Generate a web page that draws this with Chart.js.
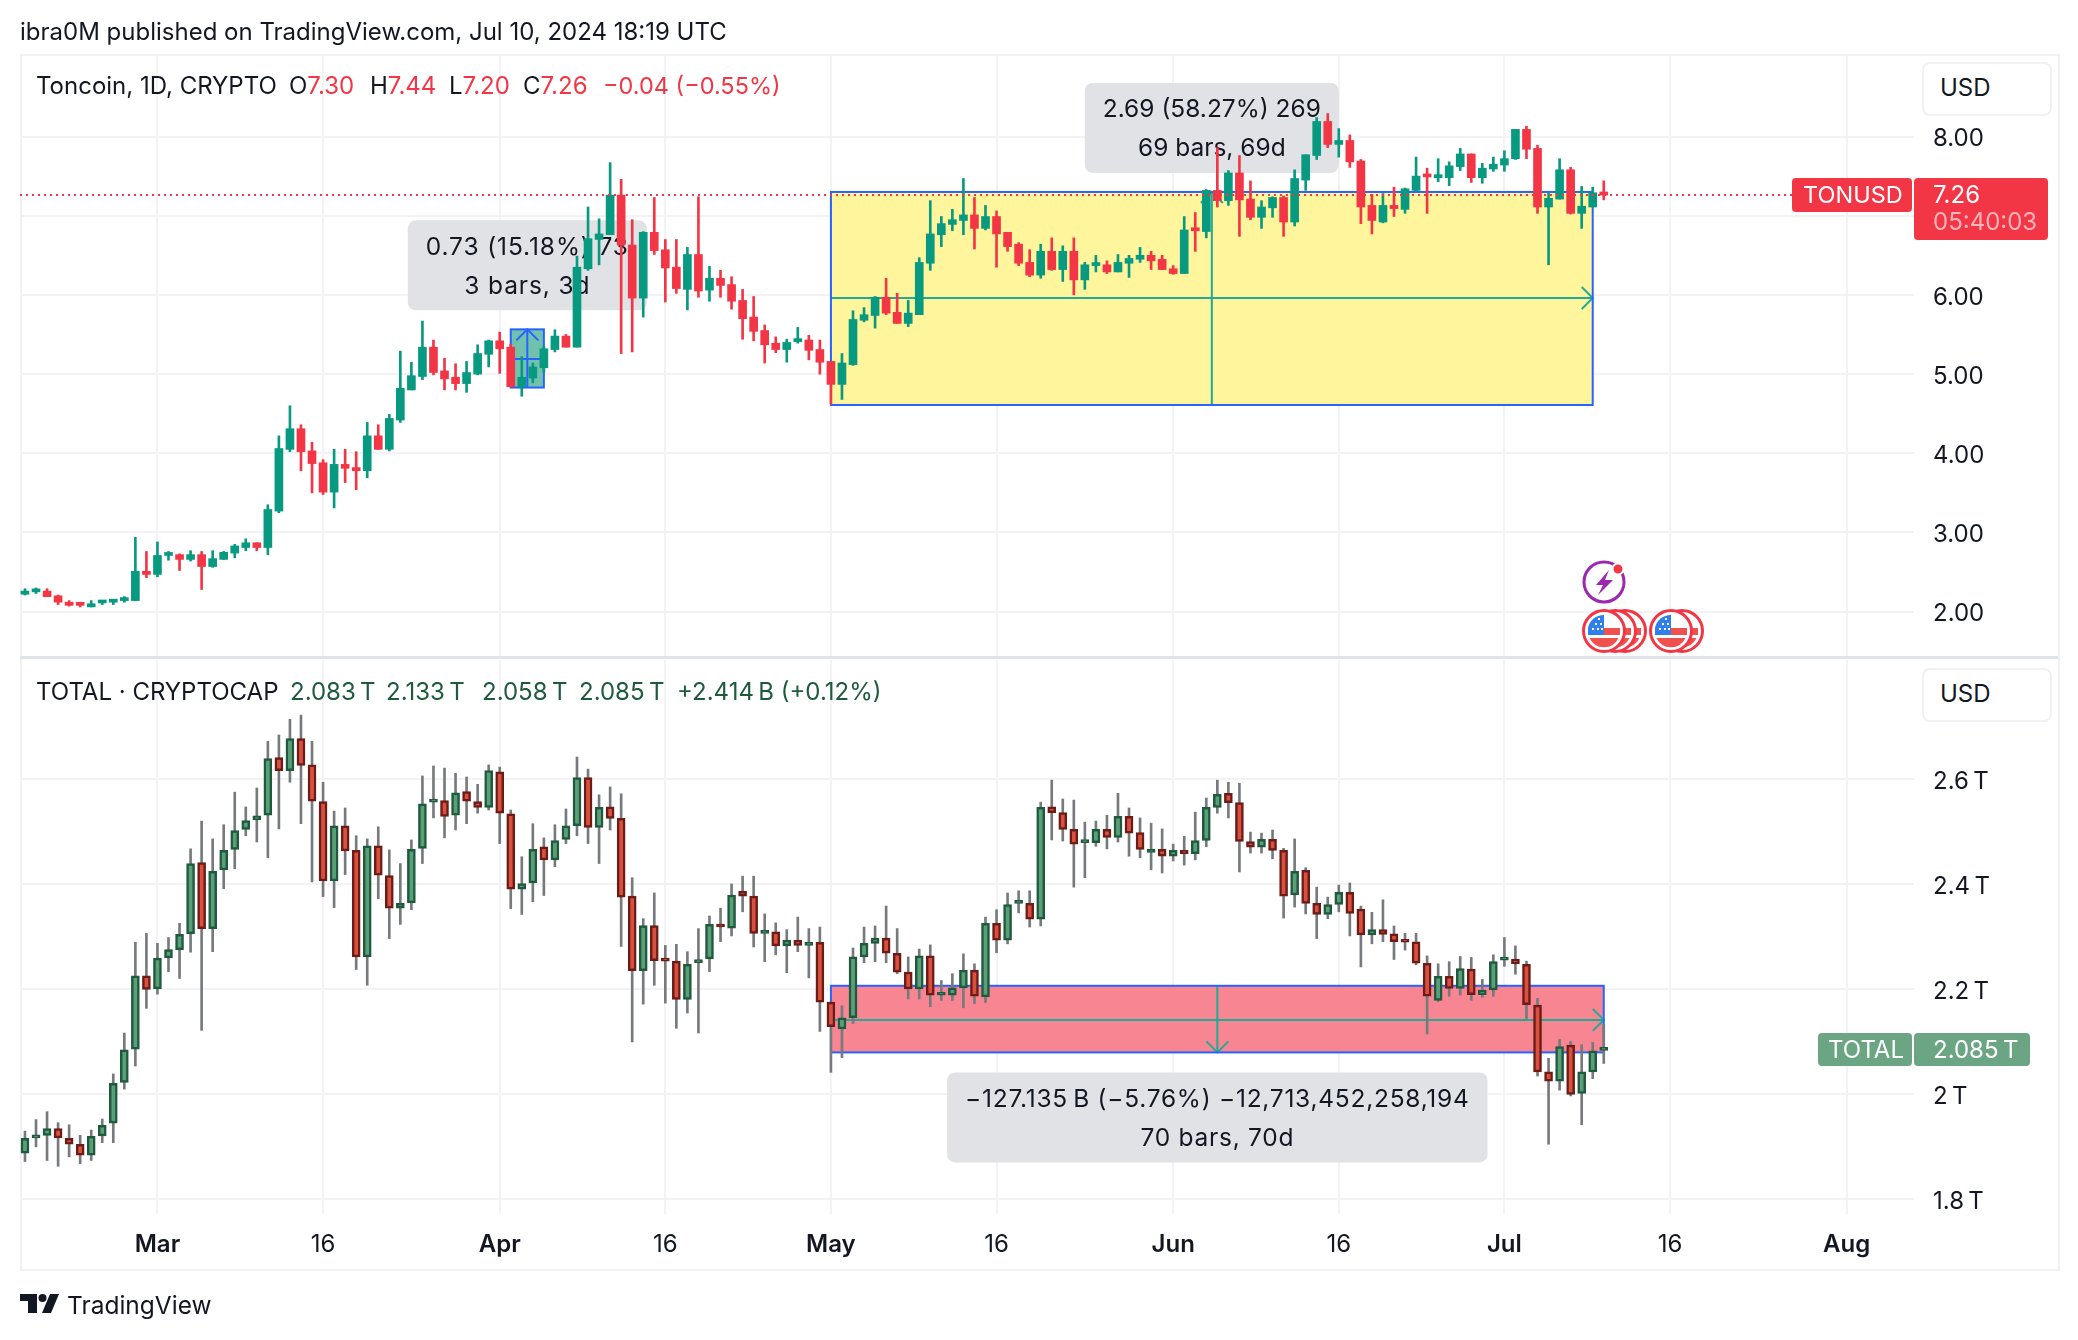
<!DOCTYPE html>
<html>
<head>
<meta charset="utf-8">
<title>Toncoin vs TOTAL</title>
<script src="https://cdn.jsdelivr.net/npm/chart.js@4"></script>
<style>
    html, body { margin: 0; padding: 0; background: #fff; }
    body { position: relative; width: 2078px; height: 1340px; overflow: hidden; font-family: Inter, "Noto Sans", sans-serif; color: #131722; }
    canvas { position: absolute; left: 0; }
    #chartTon { top: 0; }
    #chartTotal { top: 659px; }
    .t { position: absolute; white-space: nowrap; font-size: 24px; line-height: 30px; }
    .tag { position: absolute; border-radius: 4px; }
    .frame { position: absolute; left: 20px; top: 54px; width: 2036px; height: 1213px; border: 2px solid #f0f0f5; }
    .sep { position: absolute; left: 20px; top: 656px; width: 2038px; height: 3px; background: #e0e3eb; }
    .usd { position: absolute; left: 1922px; width: 126px; height: 50px; border: 2px solid #f0f0f5; border-radius: 8px; background: #fff; }
    .red { color: #f23645; }
    .grn { color: #1e5a3c; }
    svg { position: absolute; }
</style>
</head>
<body>
<div class="frame"></div>
<canvas id="chartTon" width="2078" height="659"></canvas>
<canvas id="chartTotal" width="2078" height="681"></canvas>
<div class="sep"></div>

<div class="t" style="left:20px;top:17px">ibra0M published on TradingView.com, Jul 10, 2024 18:19 UTC</div>

<div class="t" style="left:36px;top:71px">Toncoin, 1D, CRYPTO</div>
<div class="t" style="left:289px;top:71px">O<span class="red">7.30</span></div>
<div class="t" style="left:370px;top:71px">H<span class="red">7.44</span></div>
<div class="t" style="left:449px;top:71px">L<span class="red">7.20</span></div>
<div class="t" style="left:523px;top:71px">C<span class="red">7.26</span></div>
<div class="t red" style="left:603px;top:71px;font-size:23.5px">−0.04 (−0.55%)</div>

<div class="t" style="left:36px;top:677px">TOTAL · CRYPTOCAP</div>
<div class="t grn" style="left:290px;top:677px">2.083&#8201;T</div>
<div class="t grn" style="left:386px;top:677px">2.133&#8201;T</div>
<div class="t grn" style="left:482px;top:677px">2.058&#8201;T</div>
<div class="t grn" style="left:579px;top:677px">2.085&#8201;T</div>
<div class="t grn" style="left:677px;top:677px">+2.414&#8201;B (+0.12%)</div>

<div class="usd" style="top:62px"></div>
<div class="t" style="left:1940px;top:73px">USD</div>
<div class="usd" style="top:668px"></div>
<div class="t" style="left:1940px;top:679px">USD</div>

<div class="tag" style="left:1792px;top:178px;width:120px;height:34px;background:#f23645"></div>
<div class="t" style="left:1803px;top:180px;color:#fff;font-size:23.5px">TONUSD</div>
<div class="tag" style="left:1914px;top:178px;width:134px;height:62px;background:#f23645"></div>
<div class="t" style="left:1933px;top:180px;color:#fff">7.26</div>
<div class="t" style="left:1933px;top:207px;color:#fbb4ba">05:40:03</div>

<div class="tag" style="left:1818px;top:1033px;width:94px;height:33px;background:#6ba583"></div>
<div class="t" style="left:1828px;top:1035px;color:#fff">TOTAL</div>
<div class="tag" style="left:1914px;top:1033px;width:116px;height:33px;background:#6ba583"></div>
<div class="t" style="left:1933px;top:1035px;color:#fff">2.085&#8201;T</div>

<svg style="left:1580px;top:556px" width="50" height="50" viewBox="0 0 50 50">
    <circle cx="24" cy="26" r="20" fill="#fff" stroke="#9c27b0" stroke-width="3"/>
    <path d="M29 14 L16 29 H23 L18 39 L33 24 H25 Z" fill="#9c27b0"/>
    <circle cx="38" cy="13" r="5.5" fill="#f23645" stroke="#fff" stroke-width="2"/>
</svg>
<svg style="left:1580px;top:606px" width="150" height="50" viewBox="0 0 150 50">
    <defs>
        <g id="flag">
            <circle cx="0" cy="0" r="20.5" fill="#fff" stroke="#f23645" stroke-width="3"/>
            <path d="M0 -3 H16 V4 H0 Z M-14.5 7 H14.5 A16 16 0 0 1 -14.5 7 Z" fill="#f0514f"/>
            <path d="M0 -16 A16 16 0 0 0 -16 -3 V4 H0 Z" fill="#2f80ed"/>
            <path d="M-12 -3 h2 v2 h-2 Z M-7 -3 h2 v2 h-2 Z M-3 -3 h2 v2 h-2 Z M-9 -8 h2 v2 h-2 Z M-4 -8 h2 v2 h-2 Z M-6 -13 h2 v2 h-2 Z" fill="#fff"/>
        </g>
    </defs>
    <use href="#flag" x="45" y="25"/>
    <use href="#flag" x="35" y="25"/>
    <use href="#flag" x="24" y="25"/>
    <use href="#flag" x="102" y="25"/>
    <use href="#flag" x="91" y="25"/>
</svg>

<svg style="left:20px;top:1294px" width="40" height="19" viewBox="0 0 40 19">
    <path d="M0 0H17V19H8V7H0Z M30 0H39L31 19H22Z" fill="#131722"/>
    <circle cx="22.5" cy="4" r="4" fill="#131722"/>
</svg>
<div class="t" style="left:67px;top:1290px;font-size:24.5px">TradingView</div>

<script>
// days are counted from Feb 18 2024, one candle per day
const tickDays = [12, 27, 43, 58, 73, 88, 104, 119, 134, 149, 165]
const tickNames = ['Mar', '16', 'Apr', '16', 'May', '16', 'Jun', '16', 'Jul', '16', 'Aug']
const tonTicks = [2, 3, 4, 5, 6, 7, 8]
const tonTickNames = ['2.00', '3.00', '4.00', '5.00', '6.00', '7.00', '8.00']
const totalTicks = [1.8, 2, 2.2, 2.4, 2.6]
const totalTickNames = ['1.8\u2009T', '2\u2009T', '2.2\u2009T', '2.4\u2009T', '2.6\u2009T']

const tonOpen = [2.22,2.25,2.26,2.20,2.12,2.10,2.06,2.11,2.12,2.14,
    2.14,2.51,2.47,2.71,2.72,2.66,2.72,2.57,2.66,2.74,
    2.81,2.87,2.81,3.27,4.05,4.31,4.03,3.88,3.51,3.86,
    3.82,3.78,4.22,4.05,4.42,4.80,4.97,5.34,5.04,4.96,
    4.88,5.00,5.25,5.42,5.34,4.84,4.95,5.08,5.31,5.48,
    5.34,6.33,6.70,6.76,7.26,6.63,5.96,6.79,6.57,6.35,
    6.07,6.51,6.06,6.21,6.13,5.93,5.72,5.55,5.39,5.31,
    5.41,5.43,5.31,5.16,4.87,5.12,5.68,5.74,5.97,5.78,
    5.64,5.75,6.40,6.76,6.89,6.94,7.01,6.84,6.99,6.79,
    6.64,6.41,6.25,6.55,6.32,6.55,6.19,6.37,6.38,6.29,
    6.40,6.45,6.50,6.45,6.33,6.27,6.84,6.80,7.32,7.19,
    7.54,7.21,6.98,7.10,7.23,6.92,7.45,7.76,8.19,7.90,
    7.95,7.69,7.13,6.92,7.13,7.08,7.32,7.51,7.48,7.48,
    7.62,7.78,7.48,7.59,7.64,7.72,8.09,7.85,7.11,7.21,
    7.58,7.03,7.11,7.30]
const tonHigh = [2.29,2.30,2.29,2.21,2.14,2.12,2.14,2.14,2.15,2.19,
    2.94,2.76,2.88,2.76,2.73,2.77,2.76,2.77,2.76,2.85,
    2.92,2.87,3.35,4.22,4.60,4.36,4.14,3.92,4.05,4.05,
    4.02,4.39,4.36,4.49,5.29,5.15,5.67,5.43,5.20,5.13,
    5.16,5.37,5.43,5.53,5.38,5.22,5.14,5.35,5.56,5.50,
    6.49,7.11,6.96,7.67,7.46,6.95,6.80,7.23,6.70,6.70,
    6.60,7.24,6.36,6.31,6.23,6.07,5.98,5.62,5.47,5.44,
    5.59,5.49,5.43,5.16,5.26,5.80,5.84,5.98,6.21,6.02,
    5.93,6.47,7.19,6.99,7.08,7.47,7.23,7.13,7.06,6.79,
    6.66,6.57,6.64,6.72,6.62,6.72,6.41,6.50,6.43,6.51,
    6.50,6.60,6.55,6.50,6.37,6.99,7.04,7.33,7.86,7.57,
    7.76,7.44,7.19,7.24,7.25,7.58,7.77,8.24,8.29,8.10,
    8.02,7.71,7.27,7.28,7.36,7.35,7.74,7.60,7.72,7.68,
    7.85,7.78,7.66,7.74,7.82,8.09,8.13,7.89,7.29,7.72,
    7.61,7.37,7.36,7.44]
const tonLow = [2.21,2.23,2.19,2.09,2.07,2.06,2.06,2.09,2.09,2.12,
    2.14,2.43,2.44,2.65,2.52,2.64,2.28,2.56,2.66,2.68,
    2.77,2.77,2.72,3.25,4.02,3.78,3.50,3.48,3.31,3.63,
    3.54,3.69,4.05,4.03,4.39,4.80,4.93,4.99,4.80,4.80,
    4.77,4.99,5.09,5.01,4.84,4.72,4.89,5.02,5.28,5.34,
    5.34,6.31,6.38,6.76,5.26,5.28,5.72,6.51,5.91,6.02,
    5.81,5.97,5.92,5.97,5.82,5.44,5.42,5.14,5.27,5.15,
    5.39,5.18,5.00,4.62,4.68,5.11,5.66,5.58,5.75,5.64,
    5.60,5.75,6.31,6.61,6.81,6.76,6.58,6.82,6.35,6.55,
    6.37,6.23,6.21,6.31,6.17,6.00,6.07,6.29,6.27,6.29,
    6.22,6.41,6.32,6.32,6.26,6.27,6.55,6.72,7.11,7.13,
    6.74,6.95,6.84,6.98,6.74,6.87,7.32,7.71,7.86,7.74,
    7.61,6.90,6.77,6.91,6.99,7.03,7.31,7.03,7.43,7.38,
    7.57,7.42,7.41,7.56,7.56,7.71,7.72,7.03,6.38,7.21,
    7.02,6.84,7.11,7.20]
const tonClose = [2.26,2.27,2.19,2.12,2.08,2.08,2.10,2.12,2.14,2.16,
    2.51,2.47,2.71,2.73,2.66,2.72,2.57,2.67,2.75,2.83,
    2.87,2.81,3.29,4.06,4.31,4.02,3.87,3.51,3.86,3.81,
    3.78,4.22,4.05,4.44,4.82,4.98,5.34,5.02,4.94,4.88,
    5.02,5.26,5.42,5.32,4.84,4.96,5.09,5.32,5.48,5.34,
    6.35,6.71,6.77,7.26,6.63,5.96,6.79,6.56,6.34,6.08,
    6.51,6.05,6.21,6.12,5.92,5.70,5.54,5.37,5.31,5.40,
    5.43,5.30,5.15,4.87,5.14,5.69,5.75,5.97,5.77,5.64,
    5.77,6.41,6.77,6.90,6.95,7.01,6.84,6.99,6.77,6.61,
    6.40,6.25,6.55,6.32,6.55,6.19,6.38,6.40,6.29,6.41,
    6.46,6.50,6.43,6.32,6.27,6.82,6.81,7.32,7.19,7.54,
    7.20,6.98,7.11,7.23,6.92,7.47,7.77,8.19,7.90,7.95,
    7.68,7.11,6.94,7.13,7.09,7.34,7.50,7.49,7.50,7.63,
    7.78,7.48,7.60,7.65,7.72,8.09,7.84,7.11,7.22,7.58,
    7.03,7.12,7.29,7.26]

const totalOpen = [1.887,1.916,1.921,1.934,1.915,1.904,1.883,1.920,1.944,2.022,
    2.085,2.225,2.200,2.259,2.275,2.305,2.441,2.315,2.427,2.466,
    2.504,2.522,2.531,2.641,2.616,2.677,2.627,2.557,2.406,2.511,
    2.464,2.261,2.473,2.416,2.354,2.364,2.468,2.556,2.559,2.531,
    2.576,2.557,2.546,2.614,2.534,2.390,2.402,2.471,2.446,2.485,
    2.511,2.603,2.508,2.547,2.525,2.377,2.235,2.321,2.255,2.253,
    2.180,2.250,2.257,2.323,2.316,2.386,2.377,2.306,2.309,2.282,
    2.293,2.283,2.289,2.175,2.124,2.145,2.261,2.287,2.297,2.268,
    2.232,2.200,2.263,2.188,2.188,2.202,2.236,2.185,2.325,2.293,
    2.363,2.363,2.333,2.547,2.536,2.504,2.479,2.479,2.504,2.489,
    2.529,2.498,2.460,2.466,2.453,2.464,2.458,2.483,2.546,2.573,
    2.555,2.481,2.470,2.485,2.464,2.379,2.426,2.363,2.342,2.361,
    2.384,2.352,2.303,2.313,2.305,2.290,2.290,2.249,2.178,2.224,
    2.201,2.238,2.189,2.198,2.255,2.257,2.247,2.169,2.042,2.024,
    2.093,2.001,2.042,2.083]
const totalHigh = [1.929,1.951,1.966,1.945,1.941,1.921,1.931,1.952,2.038,2.116,
    2.289,2.306,2.287,2.298,2.325,2.467,2.520,2.486,2.513,2.575,
    2.547,2.583,2.672,2.684,2.714,2.722,2.672,2.594,2.539,2.545,
    2.492,2.486,2.509,2.465,2.439,2.484,2.606,2.625,2.621,2.611,
    2.604,2.590,2.627,2.623,2.541,2.452,2.515,2.488,2.513,2.543,
    2.642,2.619,2.570,2.585,2.572,2.412,2.334,2.383,2.283,2.285,
    2.271,2.315,2.339,2.354,2.400,2.415,2.415,2.343,2.326,2.313,
    2.337,2.315,2.318,2.175,2.168,2.278,2.318,2.320,2.358,2.315,
    2.261,2.276,2.284,2.216,2.229,2.267,2.248,2.337,2.351,2.383,
    2.387,2.387,2.556,2.598,2.562,2.560,2.518,2.520,2.531,2.573,
    2.545,2.526,2.516,2.505,2.476,2.491,2.537,2.564,2.598,2.594,
    2.592,2.499,2.497,2.503,2.468,2.486,2.431,2.394,2.375,2.398,
    2.402,2.358,2.346,2.370,2.320,2.306,2.306,2.263,2.248,2.252,
    2.262,2.260,2.218,2.265,2.298,2.282,2.253,2.182,2.068,2.104,
    2.100,2.094,2.098,2.133]
const totalLow = [1.871,1.899,1.873,1.862,1.880,1.867,1.873,1.907,1.907,2.009,
    2.053,2.163,2.190,2.233,2.220,2.270,2.121,2.271,2.391,2.429,
    2.492,2.480,2.450,2.505,2.594,2.515,2.404,2.376,2.355,2.418,
    2.237,2.207,2.372,2.296,2.323,2.351,2.439,2.526,2.488,2.503,
    2.515,2.535,2.541,2.477,2.353,2.342,2.366,2.378,2.433,2.477,
    2.492,2.477,2.439,2.503,2.281,2.099,2.171,2.207,2.173,2.125,
    2.154,2.116,2.233,2.290,2.301,2.347,2.280,2.252,2.265,2.231,
    2.271,2.221,2.119,2.041,2.069,2.134,2.250,2.252,2.250,2.229,
    2.181,2.181,2.166,2.178,2.178,2.164,2.172,2.174,2.269,2.286,
    2.345,2.318,2.320,2.484,2.482,2.394,2.412,2.472,2.467,2.480,
    2.453,2.450,2.427,2.421,2.444,2.436,2.446,2.471,2.535,2.526,
    2.423,2.459,2.459,2.448,2.335,2.356,2.343,2.296,2.334,2.347,
    2.301,2.242,2.286,2.290,2.256,2.274,2.246,2.114,2.176,2.186,
    2.188,2.178,2.184,2.186,2.243,2.228,2.143,2.034,1.904,2.007,
    1.996,1.941,2.029,2.058]
const totalClose = [1.915,1.921,1.934,1.916,1.904,1.883,1.919,1.940,2.020,2.084,
    2.225,2.199,2.259,2.275,2.304,2.439,2.315,2.424,2.464,2.502,
    2.521,2.530,2.639,2.616,2.677,2.626,2.558,2.406,2.511,2.463,
    2.261,2.473,2.417,2.354,2.363,2.466,2.553,2.559,2.529,2.574,
    2.558,2.546,2.616,2.535,2.390,2.401,2.466,2.446,2.483,2.511,
    2.603,2.508,2.546,2.525,2.375,2.235,2.321,2.254,2.253,2.180,
    2.247,2.256,2.323,2.318,2.379,2.377,2.306,2.310,2.282,2.293,
    2.283,2.289,2.175,2.128,2.145,2.261,2.287,2.297,2.268,2.232,
    2.200,2.263,2.188,2.190,2.202,2.236,2.186,2.325,2.293,2.361,
    2.365,2.333,2.546,2.536,2.504,2.476,2.481,2.504,2.489,2.529,
    2.497,2.466,2.466,2.453,2.464,2.458,2.483,2.546,2.571,2.555,
    2.481,2.470,2.485,2.464,2.377,2.424,2.363,2.342,2.361,2.384,
    2.344,2.303,2.313,2.304,2.290,2.289,2.249,2.186,2.224,2.201,
    2.239,2.189,2.198,2.252,2.257,2.248,2.170,2.042,2.024,2.090,
    1.999,2.042,2.082,2.085]

const days = tonOpen.map((v, i) => i)

const GRID = '#f3f3f6'
const BLUE = '#2962ff'
const TEAL = '#22ab94'
const FONT = 'Inter, "Noto Sans", sans-serif'
const XMIN = -0.45
const XMAX = 171.1

function chevron(ctx, x, y, dirX, dirY) {
    // open arrow head, size is fixed in px
    const back = 11, side = 11
    ctx.beginPath()
    ctx.moveTo(x - dirX * back - dirY * side, y - dirY * back - dirX * side)
    ctx.lineTo(x, y)
    ctx.lineTo(x - dirX * back + dirY * side, y - dirY * back + dirX * side)
    ctx.stroke()
}

function drawMeasure(chart, m) {
    const ctx = chart.ctx
    const x = chart.scales.x, y = chart.scales.y
    const left = x.getPixelForValue(m.from), right = x.getPixelForValue(m.to)
    const top = y.getPixelForValue(m.high), bottom = y.getPixelForValue(m.low)
    const midX = (left + right) / 2, midY = y.getPixelForValue(m.mid)

    ctx.save()
    ctx.fillStyle = m.fill
    ctx.fillRect(left, top, right - left, bottom - top)

    ctx.lineWidth = 2
    ctx.strokeStyle = m.lines
    ctx.beginPath()
    ctx.moveTo(left, midY); ctx.lineTo(right, midY)
    ctx.moveTo(midX, top); ctx.lineTo(midX, bottom)
    ctx.stroke()
    if (m.arrowX) chevron(ctx, right, midY, 1, 0)
    if (m.arrowY === 'up') chevron(ctx, midX, top, 0, -1)
    if (m.arrowY === 'down') chevron(ctx, midX, bottom, 0, 1)

    ctx.strokeStyle = BLUE
    ctx.strokeRect(left, top, right - left, bottom - top)

    // label box above or below the measure
    ctx.font = '24.5px ' + FONT
    ctx.letterSpacing = m.spacing || '0px'
    const w = ctx.measureText(m.text[0]).width + 36
    const h = 90
    const boxTop = m.labelBelow ? bottom + 20 : top - 19 - h
    ctx.fillStyle = '#e0e2e6'
    ctx.beginPath()
    ctx.roundRect(midX - w / 2, boxTop, w, h, 8)
    ctx.fill()
    ctx.fillStyle = '#131722'
    ctx.textAlign = 'center'
    ctx.textBaseline = 'middle'
    ctx.fillText(m.text[0], midX, boxTop + 27)
    ctx.fillText(m.text[1], midX, boxTop + 66)
    ctx.restore()
}

function makeChart(id, o) {
    const bodyColor = o.open.map((v, i) => o.close[i] >= v ? o.up : o.down)
    const edgeColor = o.open.map((v, i) => o.close[i] >= v ? o.upEdge : o.downEdge)
    const wickColor = o.wick ? o.open.map(() => o.wick) : bodyColor

    return new Chart(document.querySelector(id), {
        type: 'bar',
        data: {
            labels: days,
            datasets: [{
                label: 'body',
                data: o.open.map((v, i) => [v, o.close[i]]),
                backgroundColor: bodyColor,
                borderColor: edgeColor,
                borderWidth: o.edgeWidth,
                borderSkipped: false,
                barThickness: 8,
                minBarLength: 3,
                grouped: false
            }, {
                label: 'wick',
                data: o.low.map((v, i) => [v, o.high[i]]),
                backgroundColor: wickColor,
                borderWidth: 0,
                barThickness: 2,
                grouped: false
            }]
        },
        options: {
            responsive: false,
            animation: false,
            events: [],
            layout: { padding: o.padding },
            plugins: { legend: { display: false }, tooltip: { enabled: false } },
            scales: {
                x: {
                    type: 'linear',
                    min: XMIN,
                    max: XMAX,
                    offset: false,
                    afterBuildTicks: s => { s.ticks = tickDays.map(value => ({ value })) },
                    afterFit: s => {
                        s.height = o.xHeight
                        s.paddingLeft = 0
                        s.paddingRight = 0
                    },
                    border: { display: false },
                    grid: { color: GRID, lineWidth: 2, drawTicks: false, offset: false },
                    ticks: {
                        display: o.xLabels,
                        autoSkip: false,
                        maxRotation: 0,
                        padding: 16,
                        color: '#131722',
                        font: c => ({ family: FONT, size: 24, weight: tickNames[c.index] === '16' ? 400 : 600 }),
                        callback: v => tickNames[tickDays.indexOf(v)]
                    }
                },
                y: {
                    position: 'right',
                    min: o.yMin,
                    max: o.yMax,
                    afterBuildTicks: s => { s.ticks = o.yTicks.map(value => ({ value })) },
                    afterFit: s => {
                        // chart.js keeps room for half a label plus tick padding otherwise
                        s.width = 144
                        s.paddingTop = 0
                        s.paddingBottom = 0
                    },
                    border: { display: false },
                    grid: { color: GRID, lineWidth: 2, drawTicks: false },
                    ticks: {
                        autoSkip: false,
                        padding: 19,
                        labelOffset: 2.5,
                        color: '#131722',
                        font: { family: FONT, size: 24 },
                        callback: v => o.yNames[o.yTicks.indexOf(v)]
                    }
                }
            }
        },
        plugins: [{
            id: 'drawings',
            beforeDatasetsDraw: c => o.measures.forEach(m => drawMeasure(c, m)),
            afterDatasetsDraw: c => {
                if (!o.priceLine) return
                const ctx = c.ctx
                const py = c.scales.y.getPixelForValue(o.priceLine)
                ctx.save()
                ctx.strokeStyle = o.down
                ctx.lineWidth = 2
                ctx.setLineDash([2, 4])
                ctx.beginPath()
                ctx.moveTo(c.chartArea.left, py)
                ctx.lineTo(1792, py)
                ctx.stroke()
                ctx.restore()
            }
        }]
    })
}

makeChart('#chartTon', {
    open: tonOpen, high: tonHigh, low: tonLow, close: tonClose,
    up: '#089981', down: '#f23645', upEdge: '#089981', downEdge: '#f23645', edgeWidth: 0,
    padding: { left: 20, right: 20, top: 54, bottom: 1 },
    xHeight: 0, xLabels: false,
    yMin: 1.415, yMax: 9.042, yTicks: tonTicks, yNames: tonTickNames,
    priceLine: 7.26,
    measures: [{
        from: 44, to: 47, high: 5.565, low: 4.83, mid: 5.19,
        fill: '#70c2af', lines: BLUE, arrowY: 'up', spacing: '0.9px',
        text: ['0.73 (15.18%) 73', '3 bars, 3d']
    }, {
        from: 73, to: 142, high: 7.30, low: 4.61, mid: 5.96,
        fill: '#fff59d', lines: TEAL, arrowX: true, arrowY: 'up',
        text: ['2.69 (58.27%) 269', '69 bars, 69d']
    }]
})

makeChart('#chartTotal', {
    open: totalOpen, high: totalHigh, low: totalLow, close: totalClose,
    up: '#5b9f78', down: '#d9503f', upEdge: '#1f5a3f', downEdge: '#6b1c17', edgeWidth: 2.5,
    wick: '#777a7d',
    padding: { left: 20, right: 20, top: 1, bottom: 71 },
    xHeight: 55, xLabels: true,
    yMin: 1.771, yMax: 2.827, yTicks: totalTicks, yNames: totalTickNames,
    measures: [{
        from: 73, to: 143, high: 2.206, low: 2.079, mid: 2.141,
        fill: '#f78692', lines: TEAL, arrowX: true, arrowY: 'down', labelBelow: true, spacing: '0.75px',
        text: ['−127.135\u2009B (−5.76%) −12,713,452,258,194', '70 bars, 70d']
    }]
})
</script>
</body>
</html>
